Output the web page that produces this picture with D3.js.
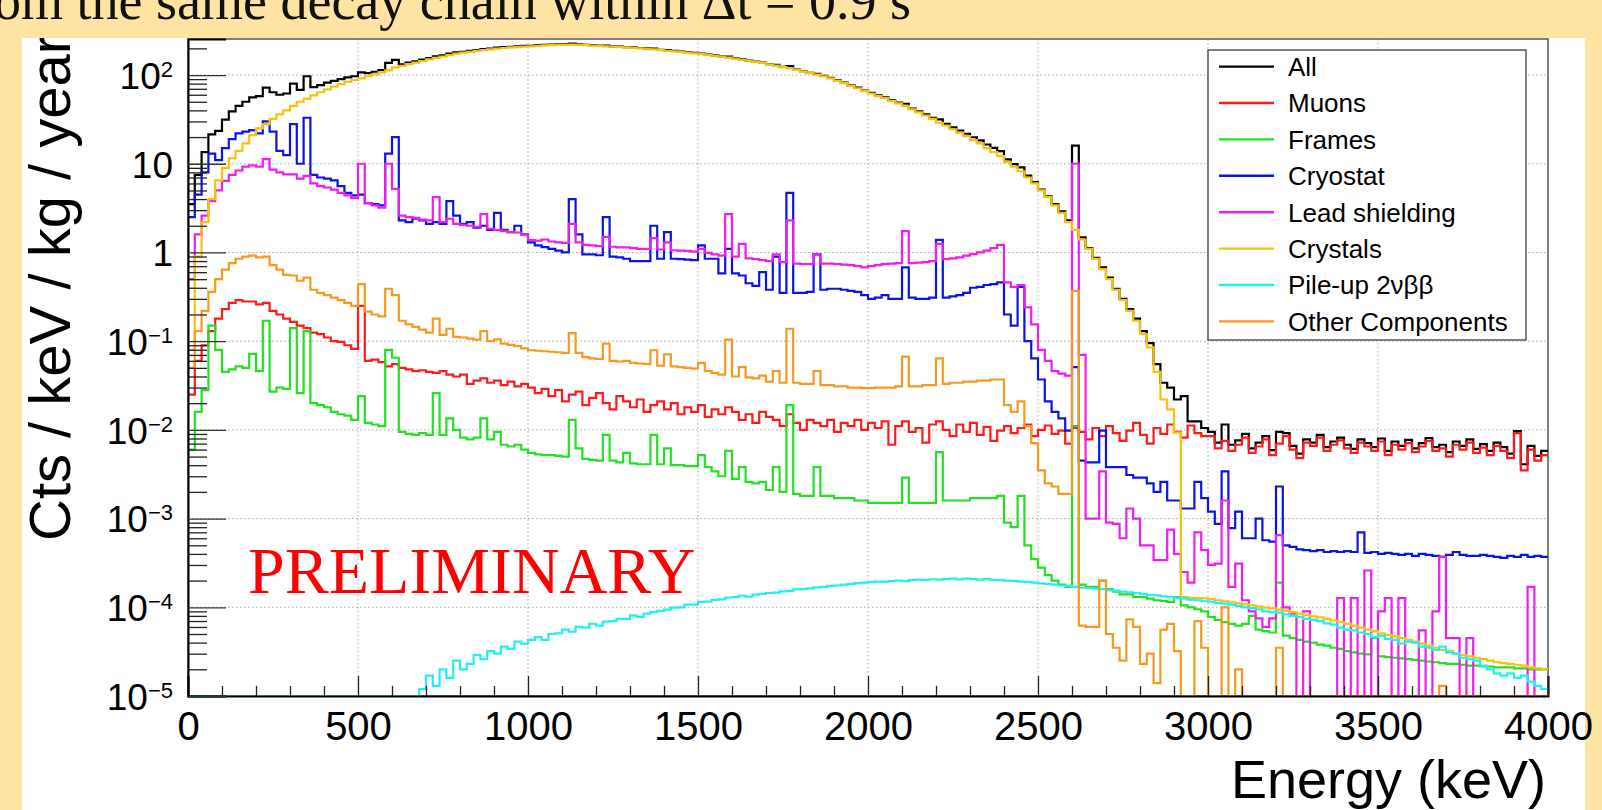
<!DOCTYPE html>
<html><head><meta charset="utf-8">
<script src="https://cdn.jsdelivr.net/npm/d3@7/dist/d3.min.js"></script>
<style>
body{margin:0;background:#fde4a3;}
svg{display:block;}
</style>
</head><body>
<svg id="chart" width="1602" height="810"></svg>
<script>
// ---------------- DATA (20 keV bins, 0-4000 keV) ----------------
const binWidthKeV = 20;
const binLowEdges = d3.range(0, 4000, binWidthKeV);
const xTickValues = [0, 500, 1000, 1500, 2000, 2500, 3000, 3500, 4000];
const yTickValues = [1e-5, 1e-4, 1e-3, 1e-2, 1e-1, 1, 10, 100];
const yTickBase = ["10", "10", "10", "10", "10", "1", "10", "10"];
const yTickExp  = ["\u22125", "\u22124", "\u22123", "\u22122", "\u22121", "", "", "2"];
const seriesNames = ["All", "Muons", "Frames", "Cryostat", "Lead shielding", "Crystals", "Pile-up 2\u03bd\u03b2\u03b2", "Other Components"];

const allCounts = [
3.5,7.5,13.5,21.5,23.5,31.5,39,45,50,56,
58,72,64,60,62,80,68,97,73,77,
82,86,90,94,97,107,105,109,114,137,
148,132,138,143,149,155,163,167,175,180,
183,187,191,196,199,204,206,208,211,213,
214,217,219,221,223,223,227,222,219,217,
215,215,211,209,207,205,202,200,199,193,
191,187,184,181,178,174,170,167,163,161,
155,151,146,142,138,133,130,124,126,115,
111,106,103,98,93,87,82,77,72,67,
63,59,56,52,49,47.5,42,39,36,33,
31.7,28.2,25.7,23.7,21.8,19.9,18.4,16.5,15.1,13.9,
11.2,9.9,9.1,7.35,6.2,5.1,4.3,3.5,2.9,2.3,
16,1.48,1.12,0.87,0.68,0.52,0.39,0.3,0.23,0.18,
0.13,0.095,0.055,0.034,0.03,0.022,0.024,0.0125,0.0125,0.0105,
0.0095,0.0072,0.0115,0.0068,0.0076,0.009,0.0062,0.0072,0.0085,0.0059,
0.0095,0.0092,0.0066,0.0054,0.0078,0.0072,0.0088,0.0064,0.0074,0.0082,
0.0068,0.0061,0.0078,0.0071,0.0064,0.008,0.0058,0.0074,0.0066,0.0077,
0.0062,0.0071,0.0081,0.0064,0.0068,0.0056,0.0074,0.0066,0.0078,0.0061,
0.0069,0.0058,0.0072,0.0064,0.0054,0.0097,0.0041,0.0066,0.0051,0.0058];

const muonCounts = [
0.025,0.06,0.09,0.13,0.18,0.23,0.27,0.29,0.28,0.28,
0.26,0.27,0.22,0.2,0.18,0.165,0.15,0.14,0.125,0.12,
0.11,0.1,0.098,0.09,0.082,0.25,0.06,0.062,0.058,0.052,
0.055,0.05,0.048,0.046,0.047,0.045,0.044,0.046,0.042,0.04,
0.042,0.033,0.036,0.038,0.034,0.036,0.032,0.035,0.031,0.033,
0.03,0.026,0.029,0.024,0.028,0.021,0.025,0.027,0.019,0.023,
0.026,0.02,0.017,0.024,0.021,0.018,0.022,0.016,0.019,0.021,
0.017,0.02,0.015,0.018,0.016,0.019,0.014,0.017,0.015,0.018,
0.016,0.013,0.015,0.012,0.016,0.014,0.013,0.011,0.015,0.012,
0.01,0.013,0.012,0.011,0.013,0.0095,0.012,0.011,0.013,0.01,
0.012,0.0105,0.0125,0.0068,0.011,0.0125,0.0095,0.0105,0.0072,0.0115,
0.0125,0.01,0.0085,0.0115,0.0095,0.012,0.0088,0.0108,0.0075,0.0098,
0.011,0.0092,0.0105,0.0115,0.0085,0.01,0.0112,0.009,0.0098,0.007,
0.0105,0.0095,0.0078,0.0105,0.0085,0.011,0.0092,0.0075,0.0098,0.012,
0.0088,0.007,0.0105,0.009,0.0115,0.0095,0.0082,0.0112,0.0092,0.0085,
0.0085,0.0062,0.0075,0.0058,0.0068,0.0082,0.0055,0.0065,0.0078,0.0052,
0.007,0.0085,0.006,0.0048,0.0072,0.0066,0.0082,0.0058,0.0068,0.0076,
0.0062,0.0055,0.0072,0.0065,0.0058,0.0074,0.0052,0.0068,0.006,0.0071,
0.0056,0.0065,0.0075,0.0058,0.0062,0.005,0.0068,0.006,0.0072,0.0055,
0.0063,0.0052,0.0066,0.0058,0.0048,0.0092,0.0035,0.006,0.0045,0.0052];

const frameCounts = [
0.006,0.016,0.028,0.15,0.08,0.045,0.048,0.052,0.05,0.072,
0.046,0.17,0.027,0.03,0.029,0.14,0.026,0.13,0.02,0.019,
0.018,0.016,0.015,0.0145,0.013,0.024,0.012,0.0115,0.011,0.08,
0.065,0.0095,0.009,0.0088,0.0092,0.0088,0.026,0.0088,0.0135,0.01,
0.0082,0.0078,0.0082,0.0135,0.0078,0.0095,0.0068,0.0065,0.0068,0.006,
0.0055,0.0053,0.0052,0.0052,0.0051,0.005,0.013,0.0062,0.0047,0.0046,
0.0045,0.0088,0.0045,0.0043,0.0055,0.0042,0.0041,0.0041,0.0088,0.0041,
0.0062,0.004,0.004,0.0039,0.0039,0.0052,0.0038,0.0034,0.003,0.0058,
0.0028,0.0038,0.0026,0.0025,0.0026,0.0021,0.0038,0.002,0.019,0.0019,
0.0018,0.0018,0.0038,0.0018,0.0018,0.0017,0.0017,0.0017,0.0016,0.0016,
0.0015,0.0015,0.0015,0.0015,0.0015,0.0029,0.0015,0.0015,0.0015,0.0015,
0.0056,0.0016,0.0016,0.0016,0.0016,0.0017,0.0017,0.0017,0.0017,0.0018,
0.0009,0.0008,0.0018,0.0005,0.00035,0.00028,0.00023,0.0002,0.00018,0.00017,
0.011,0.00018,0.00017,0.00017,0.0002,0.00016,0.00015,0.00014,0.00014,0.00013,
0.00013,0.000125,0.00012,0.000118,0.000115,0.00013,0.000105,0.0001,0.000095,0.00009,
7.8e-5,7.2e-5,6.8e-5,6.5e-5,6.2e-5,6.5e-5,8e-5,5.6e-5,5.4e-5,5.2e-5,
1.9e-4,4.8e-5,4.5e-5,4.3e-5,4.1e-5,4e-5,3.8e-5,3.7e-5,3.5e-5,3.4e-5,
3.2e-5,3.1e-5,3.0e-5,2.95e-5,4.5e-5,2.8e-5,2.75e-5,2.7e-5,2.65e-5,2.6e-5,
2.55e-5,2.5e-5,2.45e-5,2.4e-5,2.35e-5,2.3e-5,2.3e-5,2.25e-5,2.2e-5,2.2e-5,
2.15e-5,2.15e-5,2.1e-5,2.1e-5,2.1e-5,2.05e-5,2.05e-5,2e-5,2e-5,2e-5];

const cryostatCounts = [
2.5,4.5,8,13,11,15,19,22,23,24,
22,30,23,14,12.5,28,10,33,7.5,7,
6.8,6.5,5.6,4.7,4.4,4.5,3.6,3.5,3.4,13,
20,2.3,2.2,2.4,2.3,2.1,2.2,2.1,3.8,2.6,
2.1,2.2,1.9,2.0,1.8,2.8,1.8,1.7,2.0,1.6,
1.3,1.2,1.15,1.1,1.05,1.0,4.0,1.6,0.95,0.95,
0.93,2.5,0.9,0.88,0.85,0.8,0.8,0.8,2.0,0.85,
1.7,0.85,0.84,0.83,0.82,1.2,0.85,0.85,0.58,1.1,
0.58,0.55,0.45,0.42,0.6,0.38,0.9,0.35,4.7,0.35,
0.35,0.36,0.95,0.38,0.39,0.39,0.38,0.37,0.36,0.33,
0.3,0.31,0.33,0.3,0.3,0.68,0.31,0.3,0.3,0.31,
1.39,0.31,0.32,0.33,0.35,0.4,0.41,0.43,0.44,0.46,
0.2,0.15,0.41,0.1,0.064,0.037,0.021,0.016,0.0135,0.0098,
0.051,0.0045,0.0043,0.0043,0.0098,0.0038,0.0038,0.0038,0.0031,0.0029,
0.0029,0.0025,0.002,0.0026,0.0016,0.0016,0.0013,0.0013,0.0026,0.0017,
0.0012,0.00087,0.0034,0.00078,0.0012,0.0006,0.0006,0.001,0.00057,0.00055,
0.0023,0.0005,0.00048,0.00045,0.00044,0.00043,0.00044,0.00042,0.00043,0.00042,
0.00043,0.00042,0.0007,0.00041,0.00042,0.0004,0.00041,0.0004,0.00039,0.0004,
0.00038,0.0004,0.00039,0.00038,0.00037,0.00039,0.00042,0.00039,0.00038,0.00038,
0.00039,0.00038,0.00037,0.00036,0.00038,0.00037,0.00039,0.00037,0.00038,0.00037];

const leadCounts = [
0.5,1.6,2.6,3.8,5.0,6.4,7.5,8.4,9.3,9.6,
9.3,11.3,8.6,8.0,7.6,7.6,6.8,7.3,6.0,5.6,
5.4,5.1,4.7,4.4,4.1,10,3.6,3.4,3.2,10,
5.2,2.6,2.5,2.45,2.35,2.3,4.2,2.2,2.4,2.1,
2.05,2.0,1.95,2.7,1.85,1.8,1.75,1.7,1.68,1.6,
1.38,1.36,1.4,1.33,1.3,1.28,2.1,1.3,1.22,1.2,
1.18,1.5,1.16,1.14,1.14,1.12,1.1,1.1,1.45,1.08,
1.3,1.06,1.05,1.04,1.02,1.1,0.99,0.95,0.92,2.7,
0.9,1.25,0.86,0.84,0.82,0.8,0.95,0.78,2.3,0.75,
0.74,0.74,0.95,0.75,0.75,0.74,0.73,0.72,0.7,0.68,
0.7,0.72,0.74,0.75,0.76,1.74,0.76,0.77,0.78,0.8,
1.25,0.84,0.86,0.88,0.92,0.96,1.0,1.05,1.12,1.22,
0.46,0.41,0.43,0.24,0.155,0.08,0.06,0.046,0.043,0.041,
10,0.07,0.001,0.001,0.0034,0.0009,0.00087,0.0006,0.0013,0.001,
0.0005,0.0005,0.00034,0.00034,0.00075,0.0004,0.00025,0.00019,0.0007,0.00044,
0.0003,0.00031,0.0016,0.00017,0.00031,0.00012,9e-5,7.5e-5,6e-5,7.5e-5,
0.00065,0.0001,8.5e-5,0,9e-5,0,0,0,0,0.000127,
0,0.000127,0,0.00026,0,9e-5,0.000127,0,0.000127,0,
0,5.5e-5,0,9e-5,0.00037,4.5e-5,4.5e-5,0,4.5e-5,0,
0,0,0,0,0,0,0,0.00017,0,0];

const crystalCounts = [
0.08,0.9,2.2,4.0,6.5,9,11.5,14,17,21,
25,28,32,36,40,45,50,54,59,64,
69,74,79,84,88,92,97,102,107,113,
122,127,133,138,144,150,156,162,168,174,
179,183,187,191,195,199,202,205,207,209,
211,214,216,218,220,220,220,219,217,215,
213,211,209,207,205,203,200,198,195,191,
188,185,182,179,176,172,168,165,161,157,
153,149,145,141,137,132,128,123,119,114,
110,105,101,97,92,86,81,76,71,66,
62,58,55,51,48,45,41,38,35,32,
29,27,24.5,22.5,20.5,18.5,17,15,13.5,12.2,
10.5,9.3,8.2,7.0,6.0,5.0,4.2,3.4,2.8,2.2,
1.8,1.4,1.1,0.85,0.65,0.5,0.38,0.29,0.22,0.17,
0.12,0.085,0.045,0.022,0.017,0.0093,1.3e-4,1.28e-4,1.27e-4,1.26e-4,
1.24e-4,1.2e-4,1.17e-4,1.14e-4,1.11e-4,1.08e-4,1.05e-4,1.02e-4,9.9e-5,9.7e-5,
9.4e-5,9.1e-5,8.8e-5,8.5e-5,8.2e-5,7.9e-5,7.7e-5,7.4e-5,7.1e-5,6.8e-5,
6.5e-5,6.2e-5,5.9e-5,5.6e-5,5.4e-5,5.1e-5,4.9e-5,4.7e-5,4.5e-5,4.3e-5,
4.1e-5,3.9e-5,3.7e-5,3.5e-5,3.3e-5,3.2e-5,3.0e-5,2.9e-5,2.8e-5,2.7e-5,
2.6e-5,2.5e-5,2.4e-5,2.35e-5,2.3e-5,2.25e-5,2.2e-5,2.1e-5,2.05e-5,2.0e-5];

const pileupCounts = [
0,0,0,0,0,0,0,0,0,0,
0,0,0,0,0,0,0,0,0,0,
0,0,0,0,0,0,0,0,0,0,
0,0,0,0,1.2e-5,1.7e-5,1.3e-5,2.0e-5,1.6e-5,2.5e-5,
2.0e-5,2.3e-5,2.9e-5,2.6e-5,3.2e-5,3.0e-5,3.6e-5,3.4e-5,4.1e-5,3.9e-5,
4.3e-5,4.6e-5,4.3e-5,5.0e-5,5.1e-5,5.6e-5,5.3e-5,6.0e-5,5.9e-5,6.5e-5,
6.2e-5,6.9e-5,7.0e-5,7.4e-5,7.4e-5,8.1e-5,7.8e-5,8.5e-5,8.8e-5,9.1e-5,
9.4e-5,9.9e-5,1.0e-4,1.07e-4,1.07e-4,1.15e-4,1.16e-4,1.21e-4,1.23e-4,1.29e-4,
1.3e-4,1.35e-4,1.32e-4,1.39e-4,1.42e-4,1.45e-4,1.46e-4,1.51e-4,1.53e-4,1.59e-4,
1.6e-4,1.63e-4,1.68e-4,1.7e-4,1.74e-4,1.76e-4,1.8e-4,1.84e-4,1.87e-4,1.9e-4,
1.92e-4,1.95e-4,1.93e-4,1.98e-4,2.0e-4,1.97e-4,2.02e-4,2.05e-4,2.03e-4,2.07e-4,
2.05e-4,2.08e-4,2.1e-4,2.06e-4,2.1e-4,2.08e-4,2.05e-4,2.08e-4,2.04e-4,2.02e-4,
2.0e-4,1.98e-4,1.95e-4,1.93e-4,1.9e-4,1.86e-4,1.83e-4,1.8e-4,1.76e-4,1.74e-4,
1.7e-4,1.66e-4,1.65e-4,1.62e-4,1.6e-4,1.56e-4,1.54e-4,1.5e-4,1.47e-4,1.45e-4,
1.42e-4,1.38e-4,1.36e-4,1.33e-4,1.3e-4,1.28e-4,1.25e-4,1.22e-4,1.2e-4,1.17e-4,
1.16e-4,1.12e-4,1.1e-4,1.07e-4,1.04e-4,1.0e-4,9.8e-5,9.5e-5,9.0e-5,8.8e-5,
8.7e-5,8.3e-5,8.0e-5,7.8e-5,7.4e-5,7.2e-5,7.0e-5,6.6e-5,6.4e-5,5.9e-5,
5.6e-5,5.5e-5,5.2e-5,5.0e-5,4.6e-5,4.8e-5,4.4e-5,4.3e-5,3.9e-5,4.1e-5,
4.0e-5,3.6e-5,3.5e-5,3.3e-5,3.6e-5,3.1e-5,3.0e-5,2.7e-5,2.6e-5,2.5e-5,
2.2e-5,2.0e-5,1.8e-5,1.7e-5,1.8e-5,1.6e-5,1.7e-5,1.45e-5,1.3e-5,1.2e-5];

const otherCounts = [
0.05,0.13,0.22,0.36,0.5,0.64,0.76,0.85,0.9,0.92,
0.88,0.9,0.72,0.64,0.56,0.55,0.48,0.52,0.38,0.35,
0.33,0.31,0.29,0.27,0.25,0.44,0.215,0.2,0.19,0.39,
0.33,0.17,0.155,0.145,0.135,0.125,0.18,0.118,0.138,0.112,
0.11,0.107,0.104,0.13,0.1,0.105,0.094,0.091,0.088,0.083,
0.079,0.078,0.077,0.076,0.075,0.074,0.123,0.074,0.066,0.064,
0.063,0.094,0.06,0.059,0.06,0.057,0.056,0.055,0.079,0.053,
0.071,0.052,0.051,0.05,0.049,0.057,0.046,0.044,0.042,0.104,
0.04,0.051,0.039,0.038,0.041,0.035,0.046,0.034,0.138,0.034,
0.033,0.033,0.046,0.032,0.032,0.031,0.031,0.03,0.03,0.0295,
0.0295,0.03,0.03,0.03,0.031,0.067,0.031,0.031,0.032,0.032,
0.064,0.033,0.034,0.034,0.035,0.035,0.036,0.036,0.037,0.037,
0.019,0.016,0.021,0.011,0.0071,0.0035,0.0025,0.0023,0.0019,0.0019,
0.37,6.2e-5,6e-5,6e-5,0.0002,5e-5,3.5e-5,2.5e-5,7.3e-5,6e-5,
2.3e-5,3e-5,1.4e-5,5.6e-5,6.5e-5,3.2e-5,0,0,7e-5,3.5e-5,
0,0,1e-4,0,2e-5,0,0,0,0,0,
3.5e-5,0,0,0,0,0,0,0,0,0,
0,0,0,0,0,0,0,0,0,0,
0,0,0,0,1.3e-5,0,0,0,0,0,
0,0,0,0,0,0,0,0,0,0];

const seriesValues = [allCounts, muonCounts, frameCounts, cryostatCounts, leadCounts, crystalCounts, pileupCounts, otherCounts];

// ---------------- STYLE / LAYOUT ----------------
const seriesColors = ["#000000", "#ff1a1a", "#22e022", "#0a14e6", "#f01cf0", "#f8c20a", "#22f0f0", "#f59a1e"];
const W = 1602, H = 810;
const plot = {left: 188, right: 1548, top: 39, bottom: 696};
const yMin = 1e-5, yMax = 255;

const svg = d3.select("#chart");
const defs = svg.append("defs");
defs.append("clipPath").attr("id", "plotClip").append("rect")
  .attr("x", plot.left).attr("y", plot.top - 2).attr("width", plot.right - plot.left).attr("height", plot.bottom - plot.top + 4);
defs.append("clipPath").attr("id", "panelClip").append("rect")
  .attr("x", 22).attr("y", 38).attr("width", 1563).attr("height", 772);

// Slide background + white figure panel
svg.append("rect").attr("x", 0).attr("y", 0).attr("width", W).attr("height", H).attr("fill", "#fde4a3");
svg.append("rect").attr("x", 22).attr("y", 38).attr("width", 1563).attr("height", 772).attr("fill", "#ffffff");

// Slide title (cut off at the top edge, as in the slide)
const title = svg.append("text")
  .attr("y", 19).attr("font-family", "'Liberation Serif', 'Times New Roman', serif")
  .attr("font-size", 54).attr("fill", "#111")
  .text("from the same decay chain within \u0394t = 0.9 s");
const frW = title.node().getSubStringLength(0, 2);
title.attr("x", -6 - frW);

const x = d3.scaleLinear().domain([0, 4000]).range([plot.left, plot.right]);
const y = d3.scaleLog().domain([yMin, yMax]).range([plot.bottom, plot.top]);

// Grid
const grid = svg.append("g").attr("stroke", "#a8a8a8").attr("stroke-width", 1).attr("stroke-dasharray", "1.5,2.5");
grid.selectAll("line.v").data(xTickValues.filter(d => d > 0 && d < 4000)).join("line")
  .attr("x1", d => x(d)).attr("x2", d => x(d)).attr("y1", plot.top).attr("y2", plot.bottom);
grid.selectAll("line.h").data(yTickValues.filter(d => d > yMin)).join("line")
  .attr("x1", plot.left).attr("x2", plot.right).attr("y1", d => y(d)).attr("y2", d => y(d));

// Frame
svg.append("rect").attr("x", plot.left).attr("y", plot.top).attr("width", plot.right - plot.left)
  .attr("height", plot.bottom - plot.top).attr("fill", "none").attr("stroke", "#555").attr("stroke-width", 1.5);

// Histograms
const histLine = d3.line().x(d => x(d[0])).y(d => y(Math.max(d[1], yMin))).curve(d3.curveStepAfter);
const gHist = svg.append("g").attr("clip-path", "url(#plotClip)");
seriesValues.forEach((vals, k) => {
  const pts = vals.map((v, i) => [binLowEdges[i], v]);
  pts.push([4000, vals[vals.length - 1]]);
  gHist.append("path").datum(pts).attr("d", histLine)
    .attr("fill", "none").attr("stroke", seriesColors[k]).attr("stroke-width", 2.2)
    .attr("stroke-linejoin", "miter");
});

// X axis
const xMinor = d3.range(0, 4001, 100).filter(d => d % 500 !== 0);
const xAxisMinor = d3.axisBottom(x).tickValues(xMinor).tickSize(-10).tickFormat("");
const xAxis = d3.axisBottom(x).tickValues(xTickValues).tickSize(-20).tickPadding(16).tickFormat(d3.format("d"));
const gxm = svg.append("g").attr("transform", `translate(0,${plot.bottom})`).call(xAxisMinor);
gxm.select(".domain").remove();
gxm.selectAll("line").attr("stroke", "#222").attr("stroke-width", 1.3);
const gx = svg.append("g").attr("transform", `translate(0,${plot.bottom})`).call(xAxis);
gx.select(".domain").attr("stroke", "#000").attr("stroke-width", 2);
gx.selectAll(".tick line").attr("stroke", "#222").attr("stroke-width", 1.3);
gx.selectAll(".tick text").attr("font-family", "'Liberation Sans', Arial, sans-serif").attr("font-size", 40).attr("fill", "#000");

// Y axis
const yMinor = [];
yTickValues.forEach(d => { for (let m = 2; m <= 9; m++) { const v = d * m; if (v <= yMax) yMinor.push(v); } });
const yAxisMinor = d3.axisLeft(y).tickValues(yMinor).tickSize(-19).tickFormat("");
const yAxis = d3.axisLeft(y).tickValues(yTickValues).tickSize(-38).tickPadding(15).tickFormat("");
const gym = svg.append("g").attr("transform", `translate(${plot.left},0)`).call(yAxisMinor);
gym.select(".domain").remove();
gym.selectAll("line").attr("stroke", "#222").attr("stroke-width", 1.3);
const gy = svg.append("g").attr("transform", `translate(${plot.left},0)`).call(yAxis);
gy.select(".domain").attr("stroke", "#000").attr("stroke-width", 2);
gy.selectAll(".tick line").attr("stroke", "#333").attr("stroke-width", 1.3);
gy.selectAll(".tick text").each(function(d, i) {
  const t = d3.select(this).attr("font-family", "'Liberation Sans', Arial, sans-serif")
    .attr("font-size", 37).attr("fill", "#000").attr("dy", "0.36em").attr("x", -15);
  t.append("tspan").text(yTickBase[i]);
  if (yTickExp[i]) t.append("tspan").attr("font-size", 22).attr("dy", -12).text(yTickExp[i]);
});

// Axis titles
svg.append("text").attr("x", 1546).attr("y", 798).attr("text-anchor", "end")
  .attr("font-family", "'Liberation Sans', Arial, sans-serif").attr("font-size", 54).attr("fill", "#000")
  .text("Energy (keV)");
svg.append("g").attr("clip-path", "url(#panelClip)").append("text")
  .attr("transform", "translate(70,541) rotate(-90)").attr("text-anchor", "start")
  .attr("font-family", "'Liberation Sans', Arial, sans-serif").attr("font-size", 58).attr("fill", "#000")
  .text("Cts / keV / kg / year");

// PRELIMINARY stamp
svg.append("text").attr("x", 248).attr("y", 593)
  .attr("font-family", "'Liberation Serif', 'Times New Roman', serif").attr("font-size", 66).attr("fill", "#ff0000")
  .text("PRELIMINARY");

// Legend
const leg = {x: 1208, y: 50, w: 318, h: 290, row0: 66.6, dy: 36.4};
svg.append("rect").attr("x", leg.x).attr("y", leg.y).attr("width", leg.w).attr("height", leg.h)
  .attr("fill", "#fff").attr("stroke", "#555").attr("stroke-width", 1.5);
const le = svg.append("g").selectAll("g").data(seriesNames).join("g")
  .attr("transform", (d, i) => `translate(0,${leg.row0 + i * leg.dy})`);
le.append("line").attr("x1", 1219).attr("x2", 1274).attr("y1", 0).attr("y2", 0)
  .attr("stroke", (d, i) => seriesColors[i]).attr("stroke-width", 2.4);
le.append("text").attr("x", 1288).attr("y", 0).attr("dy", "0.36em")
  .attr("font-family", "'Liberation Sans', Arial, sans-serif").attr("font-size", 26).attr("fill", "#000")
  .text(d => d);
</script>
</body></html>
